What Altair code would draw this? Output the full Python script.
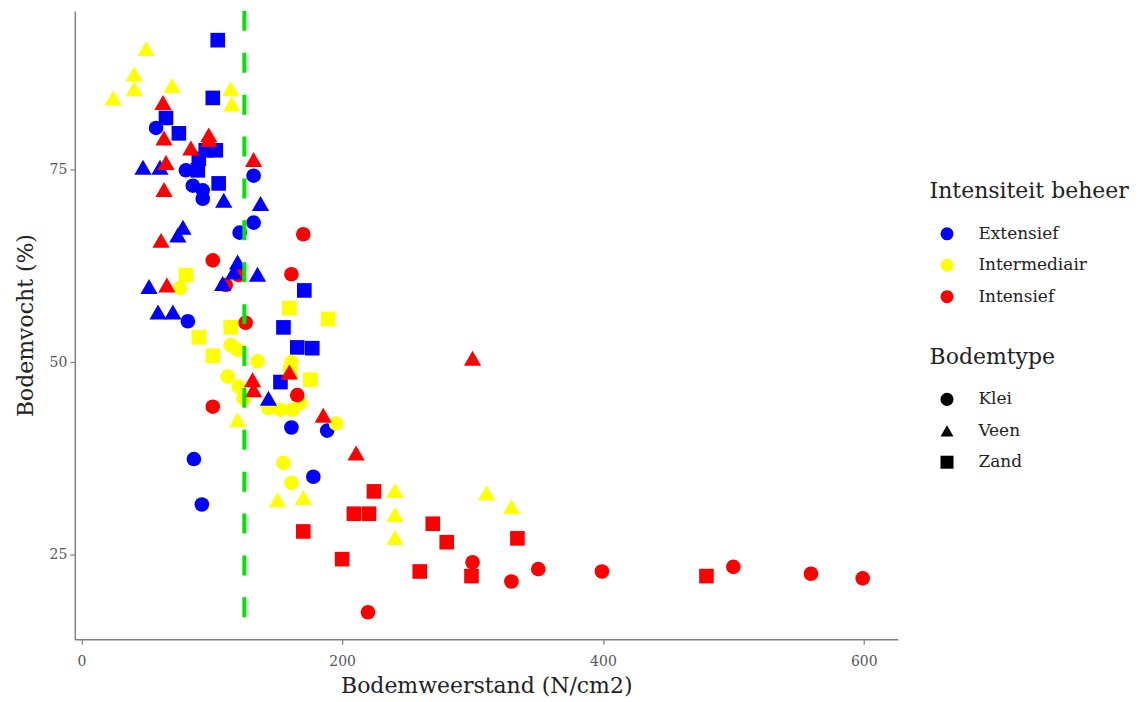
import altair as alt
import pandas as pd

# ---- data ----
# Extensief (blue)
ext_klei_x = [57.3, 80.2, 85.5, 93.1, 93.1, 132.1, 132.1, 121.4, 81.7, 86.3, 92.4, 161.1, 188.5, 177.9]
ext_klei_y = [80.4, 74.9, 72.9, 72.3, 71.2, 74.2, 68.1, 66.8, 55.3, 37.4, 31.5, 41.5, 41.1, 35.1]
ext_veen_x = [47.3, 60.3, 109.2, 137.4, 77.9, 74.0, 119.8, 116.8, 108.4, 135.1, 51.9, 58.8, 70.2, 143.5]
ext_veen_y = [75.3, 75.3, 71.0, 70.6, 67.5, 66.5, 63.0, 61.7, 60.2, 61.4, 59.8, 56.5, 56.5, 45.3]
ext_zand_x = [104.6, 100.8, 64.9, 74.8, 95.4, 103.1, 90.1, 89.3, 105.3, 155.0, 171.0, 165.6, 177.1, 152.7]
ext_zand_y = [91.8, 84.3, 81.7, 79.7, 77.5, 77.5, 76.4, 74.9, 73.2, 54.5, 59.3, 51.9, 51.8, 47.4]

# Intermediair (yellow)
int_klei_x = [75.6, 114.5, 119.8, 135.1, 112.2, 120.6, 124.4, 143.5, 152.7, 161.8, 167.9, 195.4, 155.0, 161.1, 161.1]
int_klei_y = [59.6, 52.2, 51.6, 50.1, 48.1, 46.8, 45.3, 44.0, 43.8, 43.8, 44.7, 42.0, 36.9, 34.3, 50.0]
int_veen_x = [49.6, 40.5, 40.5, 24.4, 69.5, 114.5, 115.3, 119.8, 150.4, 170.2, 240.5, 240.5, 240.5, 310.7, 329.8]
int_veen_y = [90.7, 87.4, 85.5, 84.3, 85.9, 85.5, 83.5, 42.5, 32.1, 32.4, 33.3, 30.2, 27.2, 33.0, 31.2]
int_zand_x = [80.2, 90.1, 100.8, 114.5, 159.5, 189.3, 175.6, 160.3]
int_zand_y = [61.3, 53.2, 50.8, 54.5, 57.0, 55.6, 47.7, 48.7]

# Intensief (red)
ins_klei_x = [100.8, 120.6, 110.7, 170.2, 161.1, 126.0, 100.8, 165.6, 219.8, 300.0, 329.8, 350.4, 399.2, 500.0, 559.5, 599.2]
ins_klei_y = [63.2, 61.3, 60.0, 66.6, 61.4, 55.1, 44.2, 45.7, 17.5, 24.0, 21.5, 23.1, 22.8, 23.4, 22.5, 21.9]
ins_veen_x = [62.6, 63.4, 84.0, 97.7, 97.7, 64.9, 132.1, 63.4, 61.1, 65.6, 131.3, 132.1, 185.5, 210.7, 300.0, 159.5]
ins_veen_y = [83.7, 79.1, 77.8, 79.5, 78.9, 75.9, 76.3, 72.4, 65.8, 60.0, 47.7, 46.4, 43.1, 38.2, 50.5, 48.7]
ins_zand_x = [479.4, 299.2, 334.4, 280.2, 269.5, 259.5, 224.4, 209.0, 220.6, 170.2, 200.0]
ins_zand_y = [22.2, 22.2, 27.1, 26.6, 29.0, 22.8, 33.2, 30.3, 30.3, 28.0, 24.4]

intensity_levels = ["Extensief", "Intermediair", "Intensief"]
intensity_colors = ["#0000ff", "#ffff00", "#ff0000"]
soil_levels = ["Klei", "Veen", "Zand"]
soil_shapes = ["circle", "triangle-up", "square"]
threshold_x = [125]

groups = [
    ("Extensief", "Klei", ext_klei_x, ext_klei_y),
    ("Extensief", "Veen", ext_veen_x, ext_veen_y),
    ("Extensief", "Zand", ext_zand_x, ext_zand_y),
    ("Intermediair", "Klei", int_klei_x, int_klei_y),
    ("Intermediair", "Veen", int_veen_x, int_veen_y),
    ("Intermediair", "Zand", int_zand_x, int_zand_y),
    ("Intensief", "Klei", ins_klei_x, ins_klei_y),
    ("Intensief", "Veen", ins_veen_x, ins_veen_y),
    ("Intensief", "Zand", ins_zand_x, ins_zand_y),
]
rows = []
for inten, soil, xs, ys in groups:
    for x, y in zip(xs, ys):
        rows.append({"Intensiteit beheer": inten, "Bodemtype": soil, "x": x, "y": y})
df = pd.DataFrame(rows)

FONT = "DejaVu Serif"

xscale = alt.Scale(domain=[-5, 626], nice=False, zero=False)
yscale = alt.Scale(domain=[14.0, 95.6], nice=False, zero=False)

enc = dict(
    x=alt.X("x:Q", scale=xscale, title="Bodemweerstand (N/cm2)",
            axis=alt.Axis(values=[0, 200, 400, 600], grid=False)),
    y=alt.Y("y:Q", scale=yscale, title="Bodemvocht (%)",
            axis=alt.Axis(values=[25, 50, 75], grid=False)),
    color=alt.Color("Intensiteit beheer:N",
                    scale=alt.Scale(domain=intensity_levels, range=intensity_colors),
                    legend=alt.Legend(orient="none", legendX=857, legendY=171,
                                      symbolType="circle", symbolSize=170)),
    shape=alt.Shape("Bodemtype:N",
                    scale=alt.Scale(domain=soil_levels, range=soil_shapes),
                    legend=alt.Legend(orient="none", legendX=857, legendY=337,
                                      symbolFillColor="black", symbolStrokeColor="black")),
)

base = alt.Chart(df)
pts_round = base.transform_filter(alt.datum.Bodemtype != "Veen").mark_point(
    filled=True, opacity=1, size=215).encode(**enc)
pts_tri = base.transform_filter(alt.datum.Bodemtype == "Veen").mark_point(
    filled=True, opacity=1, size=300).encode(**enc)

vline = alt.Chart(pd.DataFrame({"x": threshold_x})).mark_rule(
    color="#00e600", strokeWidth=4, strokeDash=[20, 22]
).encode(x=alt.X("x:Q", scale=xscale))

chart = alt.layer(pts_round, pts_tri, vline).properties(
    width=825, height=630,
    autosize=alt.AutoSizeParams(type="none"),
    padding={"left": 67, "top": 2, "right": 240, "bottom": 58},
).configure_view(stroke=None).configure_axis(
    domainColor="#808080", domainWidth=1.5, tickColor="#808080", tickWidth=1.2,
    tickSize=5, labelColor="#555555", labelFont=FONT, labelFontSize=14,
    titleFont=FONT, titleFontSize=22, titleFontWeight="normal", titleColor="#222222",
    labelPadding=3,
).configure_axisX(titlePadding=7, labelPadding=10).configure_axisY(titlePadding=12).configure_legend(
    titleFont=FONT, titleFontSize=22, titleFontWeight="normal", titleColor="#222222",
    titleLimit=400, labelLimit=300,
    labelFont=FONT, labelFontSize=17, labelColor="#222222",
    symbolSize=170, symbolOffset=9, labelOffset=23, rowPadding=13.5, titlePadding=22,
    symbolStrokeWidth=0,
)

chart.save("out.html", embed_options={"renderer": "svg", "actions": False})
